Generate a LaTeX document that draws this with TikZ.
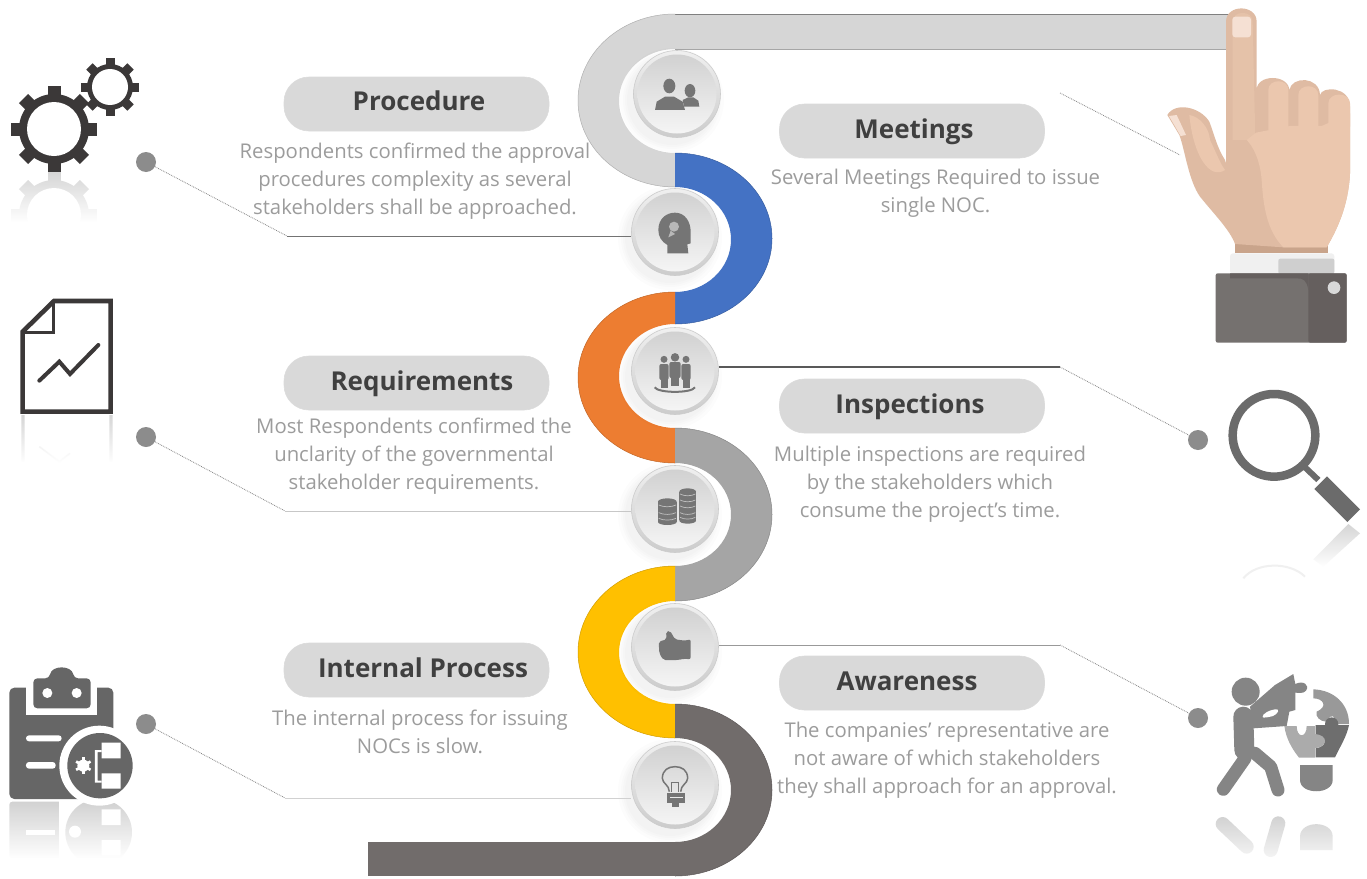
\documentclass[tikz,border=0pt]{standalone}
\usepackage{fontspec}
\setmainfont{Open Sans}
\usetikzlibrary{fadings,calc}
\definecolor{pillc}{HTML}{D9D9D9}
\definecolor{headc}{HTML}{404040}
\definecolor{bodyc}{HTML}{9C9C9C}
\definecolor{lead}{HTML}{8C8C8C}
\definecolor{ribgrey}{HTML}{D6D6D6}
\definecolor{ribblue}{HTML}{4472C4}
\definecolor{riborange}{HTML}{ED7D31}
\definecolor{ribmid}{HTML}{A5A5A5}
\definecolor{ribyellow}{HTML}{FFC000}
\definecolor{ribdark}{HTML}{716C6B}
\definecolor{gearc}{HTML}{3B3838}
\definecolor{iconc}{HTML}{757575}
\definecolor{skin}{HTML}{EBC7AE}
\definecolor{skinb}{HTML}{DFBBA3}
\definecolor{skinc}{HTML}{C9A48B}
\definecolor{nail}{HTML}{F5E0D3}
\definecolor{sleeve}{HTML}{75716F}
\definecolor{sleeved}{HTML}{655F5E}
\tikzset{
  pillbox/.style={rounded corners=25pt,minimum width=265pt,minimum height=54pt,inner sep=0pt,
    fill=pillc,draw=black!14,line width=.6pt},
  headtext/.style={inner sep=0pt,font=\fontsize{26}{30}\selectfont\bfseries,text=headc},
  bodytext/.style={align=center,inner sep=0pt,text=bodyc,font=\fontsize{20.3}{28}\selectfont},
  leadend/.style={circle,fill=lead,minimum size=20pt,inner sep=0pt},
  hub/.style={circle,minimum size=87pt,inner sep=0pt,draw=black!20,line width=.6pt,top color=black!6,bottom color=black!20},
  dotline/.style={densely dotted,line width=.8pt,color=black!48},
  solidline/.style={line width=1pt}
}
\newcommand\ribseg[6]{%
  % colour, direction, outer top, outer bottom, inner top, inner bottom
  \pgfmathsetmacro\oy{(#3+#4)/2}\pgfmathsetmacro\ok{.5523*(#4-#3)/2}%
  \pgfmathsetmacro\iy{(#5+#6)/2}\pgfmathsetmacro\ik{.5523*(#6-#5)/2}%
  \pgfmathsetmacro\ox{675+#2*97}\pgfmathsetmacro\ix{675+#2*56}%
  \pgfmathsetmacro\oc{675+#2*53.6}\pgfmathsetmacro\ic{675+#2*31}%
  \fill[#1] (675,#3) .. controls (\oc,#3) and (\ox,\oy-\ok) .. (\ox,\oy)
    .. controls (\ox,\oy+\ok) and (\oc,#4) .. (675,#4) -- (675,#6)
    .. controls (\ic,#6) and (\ix,\iy+\ik) .. (\ix,\iy)
    .. controls (\ix,\iy-\ik) and (\ic,#5) .. (675,#5) -- cycle;
  \draw[#1!82!black,line width=.5pt] (675,#3) .. controls (\oc,#3) and (\ox,\oy-\ok) .. (\ox,\oy)
    .. controls (\ox,\oy+\ok) and (\oc,#4) .. (675,#4);
}
\newcommand\hubnode[3]{%
  \foreach \r in {52,49,47,45}{\fill[black,opacity=.012] (#2-5,#3+6) circle (\r pt);}
  \node[hub] (#1) at (#2,#3) {};
  \shade[top color=black!18,bottom color=black!4] (#2,#3) circle (39.5pt);
}
\newcommand\gearicon[7]{%
  \fill[#7] (#1,#2) circle (#4 pt);
  \foreach \a in {0,45,...,315}{\fill[#7,rotate around={\a:(#1,#2)}] (#1-#6,#2) rectangle (#1+#6,#2-#5);}
  \fill[white] (#1,#2) circle (#3 pt);
}
\begin{document}
\begin{tikzpicture}[x=1pt,y=-1pt]
\useasboundingbox (0,0) rectangle (1367,878);
\fill[white] (0,0) rectangle (1367,878);

% ---- ribbon ----
\fill[ribgrey] (675,14) -- (1232,14) -- (1232,49) -- (675,49) -- cycle;
\draw[black!50,line width=1pt] (675,14) -- (1232,14);
\draw[black!35,line width=.7pt] (675,49) -- (1232,49);
\ribseg{ribgrey}{-1}{14}{187}{49}{153}
\ribseg{ribblue}{1}{153}{324}{187}{292}
\ribseg{riborange}{-1}{292}{463}{324}{428}
\ribseg{ribmid}{1}{428}{601}{463}{566}
\ribseg{ribyellow}{-1}{566}{738}{601}{704}
\ribseg{ribdark}{1}{704}{876}{738}{842}
\fill[ribdark] (368,842) rectangle (676,876);

% ---- leader anchors ----
\coordinate (b1) at (287,236);
\coordinate (b2) at (285,511);
\coordinate (b3) at (285,798);
\coordinate (b5) at (1060,367);
\coordinate (b6) at (1060,645);
\coordinate (m1) at (1060,93);
\coordinate (m2) at (1180,155);
\node[leadend] (d1) at (146,162) {};
\node[leadend] (d2) at (146,437) {};
\node[leadend] (d3) at (146,724) {};
\node[leadend] (d5) at (1198,440) {};
\node[leadend] (d6) at (1198,718) {};

% ---- hubs ----
\hubnode{h1}{677}{94}
\hubnode{h2}{675}{232}
\hubnode{h3}{675}{371}
\hubnode{h4}{675}{509}
\hubnode{h5}{675}{647}
\hubnode{h6}{675}{785}

% ---- leaders ----
\draw[dotline] (d1) -- (b1);
\draw[solidline,black!55] (b1) -- (b1 -| h2.west);
\draw[dotline] (d2) -- (b2);
\draw[solidline,black!22] (b2) -- (b2 -| h4.west);
\draw[dotline] (d3) -- (b3);
\draw[solidline,black!18] (b3) -- (b3 -| h6.west);
\draw[solidline,line width=1.4pt,black!65] (b5 -| h3.east) -- (b5);
\draw[dotline] (b5) -- (d5);
\draw[solidline,black!40] (b6 -| h5.east) -- (b6);
\draw[dotline] (b6) -- (d6);
\draw[dotline] (m1) -- (m2);

% ---- pills and texts ----
\node[pillbox] (p1) at (416.5,104) {};
\node[pillbox] (p2) at (416.5,383) {};
\node[pillbox] (p3) at (416.5,670) {};
\node[pillbox] (p4) at (912,131) {};
\node[pillbox] (p5) at (912,406) {};
\node[pillbox] (p6) at (912,683) {};
\node[headtext] (l1) at (419,101) {Procedure};
\node[headtext] (l2) at (422,384) {Requirements};
\node[headtext] (l3) at (423,668) {Internal Process};
\node[headtext] (l4) at (914,132) {Meetings};
\node[headtext] (l5) at (910,407) {Inspections};
\node[headtext] (l6) at (907,681) {Awareness};
\node[bodytext] (t1) at (415,181) {Respondents confirmed the approval\\procedures complexity as several\\stakeholders shall be approached.};
\node[bodytext] (t2) at (414,456) {Most Respondents confirmed the\\unclarity of the governmental\\stakeholder requirements.};
\node[bodytext] (t3) at (420,732) {The internal process for issuing\\NOCs is slow.};
\node[bodytext] (t4) at (935.5,193) {Several Meetings Required to issue\\single NOC.};
\node[bodytext] (t5) at (930,484) {Multiple inspections are required\\by the stakeholders which\\consume the project’s time.};
\node[bodytext] (t6) at (947,760) {The companies’ representative are\\not aware of which stakeholders\\they shall approach for an approval.};

% ---- hub icons ----
% people
\begin{scope}[shift={(560,0)},scale=1/3,iconc]
\fill (328,258) ellipse (18 and 22);
\fill (390,272) ellipse (16 and 20);
\fill (285,330) -- (290,305) -- (315,290) -- (342,290) -- (368,305) -- (375,330) -- cycle;
\fill (368,300) -- (385,292) -- (400,292) -- (415,302) -- (418,320) -- (372,320) -- cycle;
\end{scope}
% head
\begin{scope}[shift={(560,0)},scale=1/3,iconc]
\fill (295,690) .. controls (295,655) and (320,638) .. (345,638)
  .. controls (375,638) and (392,665) .. (392,695) -- (392,730) -- (382,733) -- (385,760) -- (322,760) -- (322,735)
  .. controls (305,725) and (295,710) .. (295,690) -- cycle;
\fill[black!28] (342,680) circle (15);
\fill[black!28] (332,692) -- (345,702) -- (325,712) -- cycle;
\end{scope}
% group
\begin{scope}[shift={(560,320)},scale=1/3,iconc]
\foreach \x/\t/\w in {312/118/14,378/118/14,345/112/17}{
  \fill (\x,\t) circle (\w*.75);
  \fill[rounded corners=2pt] (\x-\w,\t+14) rectangle (\x+\w,\t+62);
  \fill (\x-\w*.75,\t+60) rectangle (\x+\w*.75,\t+85);
}
\draw[line width=2pt] (284,202) .. controls (295,220) and (395,220) .. (405,202);
\end{scope}
% coins
\begin{scope}[shift={(560,320)},scale=1/3]
\fill[iconc] (294,545) rectangle (350,606);
\fill[iconc] (322,545) ellipse (28 and 10);
\fill[iconc] (322,606) ellipse (28 and 9);
\fill[iconc] (358,515) rectangle (408,600);
\fill[iconc] (383,515) ellipse (25 and 10);
\fill[iconc] (383,602) ellipse (25 and 9);
\foreach \y in {555,578,595}{\draw[black!25,line width=.7pt] (296,\y) .. controls (310,\y+7) and (334,\y+7) .. (348,\y);}
\foreach \y in {522,540,558,578,592}{\draw[black!25,line width=.7pt] (360,\y) .. controls (372,\y+7) and (394,\y+7) .. (406,\y);}
\end{scope}
% thumb
\begin{scope}[shift={(560,600)},scale=1/3,iconc]
\fill[rounded corners=2pt] (296,125) -- (320,118) -- (318,95) -- (330,92) -- (345,118) -- (375,122) -- (392,118) -- (392,178) -- (372,176) -- (355,180) -- (310,180) -- (298,160) -- cycle;
\end{scope}
% bulb
\begin{scope}[shift={(560,600)},scale=1/3]
\draw[iconc,line width=1.5pt] (328,575) .. controls (328,555) and (307,550) .. (307,535)
  .. controls (307,510) and (325,500) .. (345,500) .. controls (365,500) and (383,510) .. (383,535)
  .. controls (383,550) and (362,555) .. (362,575);
\draw[iconc,line width=.8pt] (335,575) -- (335,548) (355,575) -- (355,548) (332,548) -- (358,548);
\fill[iconc] (322,580) rectangle (375,610);
\fill[black!8] (330,592) rectangle (368,595);
\fill[iconc] (335,610) rectangle (358,620);
\end{scope}

% ---- gears ----
\gearicon{54}{215}{27}{35}{43}{6.5}{black!16}
\fill[white,path fading=north] (0,172) rectangle (120,222);
\fill[white] (0,222) rectangle (120,262);
\gearicon{54}{129}{27}{35}{43}{6.5}{gearc}
\gearicon{110}{87}{18}{23}{29}{4.5}{gearc}

% ---- chart document ----
\begin{scope}[shift={(0,40)},scale=1/3,gearc]
\fill[black!16] (64,1125) rectangle (74,1265) (328,1125) rectangle (338,1265);
\draw[black!12,line width=1.5pt] (118,1220) -- (178,1265) -- (210,1240);
\fill[white,path fading=north] (50,1125) rectangle (350,1270);
\draw[line width=4.6pt,line join=miter] (68,875) -- (162,783) -- (332,783) -- (332,1115) -- (68,1115) -- cycle;
\draw[line width=3.2pt] (160,783) -- (160,878) -- (68,878);
\draw[line width=4pt,line cap=round] (118,1022) -- (178,965) -- (210,1002) -- (295,915);
\end{scope}

% ---- clipboard ----
\begin{scope}[shift={(0,650)},scale=1/3]
\def\clipc{black!60}
\fill[black!18,rounded corners=3pt] (28,455) rectangle (220,625);
\fill[white] (178,440) rectangle (240,640);
\fill[black!18] (296,547) circle (100);
\fill[white] (78,540) rectangle (165,556);
\fill[white] (225,545) circle (18);
\fill[white] (305,478) rectangle (362,525) (305,570) rectangle (362,616);
\fill[white,path fading=north] (15,450) rectangle (410,625);
\fill[white] (15,625) rectangle (410,660);
\fill[\clipc,rounded corners=5pt] (28,113) rectangle (340,447);
\fill[white] (78,100) rectangle (292,195);
\fill[\clipc,rounded corners=4pt] (100,85) -- (148,85) .. controls (155,45) and (215,45) .. (222,85) -- (272,85) -- (272,175) -- (100,175) -- cycle;
\fill[white] (142,129) circle (15) (230,129) circle (15);
\fill[white,rounded corners=3pt] (78,256) rectangle (185,274) (78,336) rectangle (167,356);
\fill[white] (298,347) circle (120);
\fill[\clipc] (300,347) circle (98);
\fill[white] (250,347) circle (18);
\foreach \a in {0,60,...,300}{\fill[white,rotate around={\a:(250,347)}] (246,322) rectangle (254,347);}
\fill[white] (305,278) rectangle (362,325) (305,370) rectangle (362,416);
\fill[white] (285,300) rectangle (305,306) (285,392) rectangle (305,398) (285,300) rectangle (293,398);
\end{scope}

% ---- magnifier ----
\begin{scope}[shift={(1150,370)},scale=1/3]
\fill[black!16,path fading=south] (595,462) -- (630,490) -- (520,590) -- (490,568) -- cycle;
\draw[black!6,line width=2pt] (280,625) .. controls (320,575) and (420,575) .. (465,620);
\draw[black!58,line width=8.5pt] (372,196) circle (124);
\draw[black!58,line width=6pt] (465,292) -- (505,330);
\draw[black!58,line width=18pt] (512,338) -- (611,437);
\end{scope}

% ---- person with puzzle ----
\begin{scope}[shift={(1150,370)},scale=1/3]
\def\pc{black!48}
\draw[black!18,line width=14pt,line cap=round] (218,1362) -- (290,1430);
\draw[black!18,line width=14pt,line cap=round] (385,1360) -- (362,1440);
\fill[black!18] (450,1440) -- (450,1400) .. controls (450,1350) and (548,1350) .. (548,1400) -- (548,1440) -- cycle;
\fill[white,path fading=north] (190,1335) rectangle (600,1500);
\fill[\pc] (287,965) circle (42);
\draw[\pc,line width=20pt,line cap=round] (280,1040) -- (283,1140);
\draw[\pc,line width=13pt,line cap=round] (285,1165) -- (220,1258);
\draw[\pc,line width=13pt,line cap=round,line join=round] (315,1150) -- (362,1190) -- (384,1260);
\fill[\pc] (300,1010) -- (375,945) -- (430,912) -- (436,942) .. controls (460,930) and (480,945) .. (468,962) .. controls (460,972) and (445,968) .. (436,968) -- (436,1020) -- (418,1025) -- (410,1068) -- (310,1075) -- cycle;
\fill[white,rounded corners=4pt] (332,1043) -- (350,1024) -- (388,1015) -- (380,1035) -- (350,1043) -- cycle;
\fill[black!40] (490,958) .. controls (550,960) and (597,1000) .. (597,1062) -- (560,1062) .. controls (555,1040) and (545,1025) .. (530,1055) .. controls (510,1055) and (495,1040) .. (500,1025) .. controls (535,1010) and (520,985) .. (490,985) -- cycle;
\fill[black!57] (497,1065) -- (597,1065) .. controls (590,1100) and (570,1130) .. (555,1162) -- (497,1162) -- (497,1135) .. controls (530,1130) and (535,1105) .. (497,1095) -- cycle;
\fill[black!57] (545,1062) circle (20);
\fill[black!33] (403,1068) -- (440,1068) .. controls (440,1105) and (470,1105) .. (470,1068) -- (495,1068) -- (495,1092) .. controls (535,1095) and (535,1130) .. (495,1135) -- (495,1163) -- (447,1163) .. controls (425,1135) and (408,1105) .. (403,1068) -- cycle;
\fill[\pc] (450,1185) -- (548,1185) -- (548,1230) .. controls (548,1275) and (450,1275) .. (450,1230) -- cycle;
\end{scope}

% ---- hand ----
\begin{scope}[shift={(1050,0)},scale=1/3]
\fill[skinc] (555,710) -- (835,710) -- (835,760) -- (555,760) -- cycle;
\fill[skinb] (528,490) -- (528,65) .. controls (528,12) and (620,12) .. (620,65) -- (620,270)
  .. controls (620,222) and (715,222) .. (718,270)
  .. controls (725,228) and (808,228) .. (810,285)
  .. controls (815,258) and (900,258) .. (900,320)
  -- (900,520) .. controls (895,620) and (860,690) .. (830,742)
  -- (700,742) -- (555,732) .. controls (540,690) and (490,640) .. (450,590)
  .. controls (415,540) and (405,450) .. (388,405) -- (352,345)
  .. controls (375,305) and (450,320) .. (478,365)
  .. controls (495,410) and (500,440) .. (525,480) -- cycle;
\fill[skinb!45!skin] (548,420) -- (548,65) .. controls (548,30) and (608,30) .. (608,65) -- (616,420) -- cycle;
\fill[skin] (618,398) -- (720,378) -- (815,378) -- (900,340) -- (900,520) .. controls (895,620) and (860,690) .. (830,742)
  -- (700,742) .. controls (650,690) and (640,620) .. (635,540) .. controls (630,480) and (610,440) .. (590,420) -- cycle;
\foreach \a/\b/\c/\d in {655/715/270/392,745/805/285/380,835/900/310/380}{\fill[skin] (\a,\d) -- (\a,\c) .. controls (\a,\c-35) and (\b,\c-35) .. (\b,\c) -- (\b,\d) -- cycle;}
\fill[skin] (418,345) .. controls (450,350) and (478,385) .. (480,420) .. controls (495,450) and (510,490) .. (525,510) .. controls (480,540) and (430,470) .. (418,345) -- cycle;
\fill[nail,rounded corners=3pt] (547,50) rectangle (603,112);
\fill[nail] (357,348) -- (380,345) -- (408,405) -- (392,408) -- cycle;
\fill[black!6,rounded corners=3pt] (540,760) rectangle (853,822);
\fill[black!19,rounded corners=2pt] (685,776) rectangle (853,822);
\fill[sleeve,rounded corners=2pt] (497,820) rectangle (890,1028);
\fill[sleeved,rounded corners=2pt] (775,820) rectangle (890,1028);
\fill[sleeved] (540,820) -- (775,820) -- (775,870) .. controls (770,840) and (760,835) .. (740,835) -- (540,835) -- cycle;
\fill[black!15] (852,863) circle (19);
\end{scope}
\end{tikzpicture}
\end{document}
